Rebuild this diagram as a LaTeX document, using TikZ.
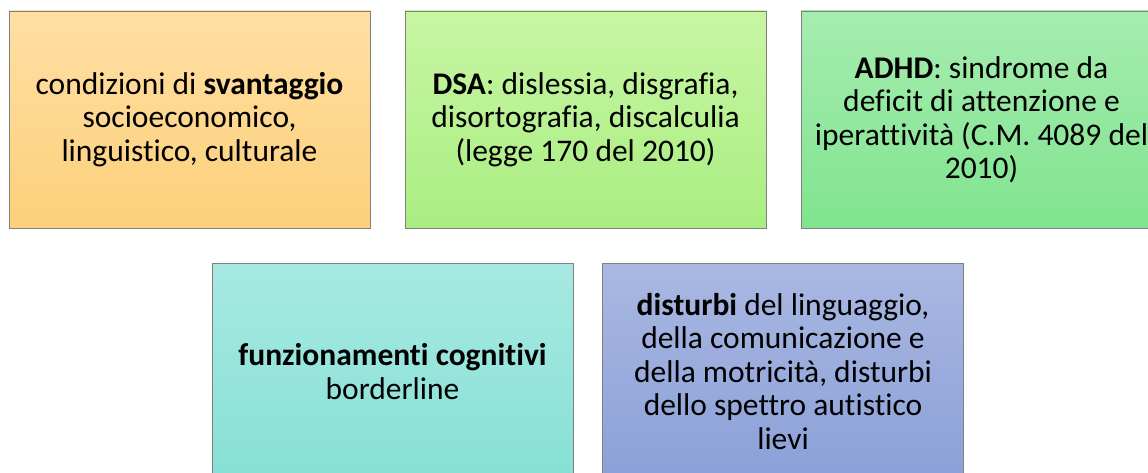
\documentclass[tikz,border=0pt]{standalone}
\usepackage{fontspec}
\setmainfont{Carlito}[Ligatures=NoCommon]
\definecolor{orTop}{HTML}{FFDFA3}
\definecolor{orBot}{HTML}{FCD07B}
\definecolor{lgTop}{HTML}{C8F5A3}
\definecolor{lgBot}{HTML}{A9EE82}
\definecolor{gTop}{HTML}{A6ECB0}
\definecolor{gBot}{HTML}{80E48E}
\definecolor{tqTop}{HTML}{A7E9E2}
\definecolor{tqBot}{HTML}{86E0D5}
\definecolor{blTop}{HTML}{AAB8E2}
\definecolor{blBot}{HTML}{8AA0D8}
\begin{document}
\begin{tikzpicture}[x=1pt,y=-1pt,
		box/.style={draw=black!50,line width=0.8pt,minimum width=361pt,minimum height=217pt,
			inner sep=0pt,align=center,text=black,font=\fontsize{31.5}{33.5}\selectfont},
		shade/.style 2 args={top color=#1,bottom color=#2}]
		\useasboundingbox (0,0) rectangle (1148,473);
		\clip (0,0) rectangle (1148,473);
		% first row
		\node[box,shade={orTop}{orBot}] (svantaggio) at (189.5,119.5)
			{condizioni di \textbf{svantaggio}\\socioeconomico,\\linguistico, culturale};
		\node[box,shade={lgTop}{lgBot}] (dsa) at (585.5,119.5)
			{\textbf{DSA}: dislessia, disgrafia,\\disortografia, discalculia\\(legge 170 del 2010)};
		\node[box,shade={gTop}{gBot}] (adhd) at (981.5,119.5)
			{\textbf{ADHD}: sindrome da\\deficit di attenzione e\\iperattività (C.M. 4089 del\\2010)};
		% second row
		\node[box,shade={tqTop}{tqBot}] (borderline) at (392.5,371.5)
			{\textbf{funzionamenti cognitivi}\\borderline};
		\node[box,shade={blTop}{blBot}] (disturbi) at (783,371.5)
			{\textbf{disturbi} del linguaggio,\\della comunicazione e\\della motricità, disturbi\\dello spettro autistico\\lievi};
	\end{tikzpicture}
\end{document}
